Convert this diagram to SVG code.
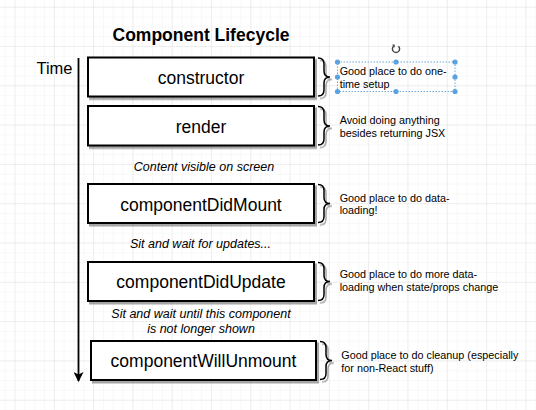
<svg xmlns="http://www.w3.org/2000/svg" width="536" height="410" viewBox="0 0 536 410">
<defs>
<pattern id="minor" x="14.5" y="6.7" width="9.825" height="9.825" patternUnits="userSpaceOnUse">
<path d="M0 0H9.825M0 0V9.825" fill="none" stroke="#f2f2f2" stroke-width="1"/>
</pattern>
<pattern id="major" x="14.5" y="6.7" width="39.3" height="39.3" patternUnits="userSpaceOnUse">
<path d="M0 0H39.3M0 0V39.3" fill="none" stroke="#e4e4e4" stroke-width="1"/>
</pattern>
<filter id="sh" x="-10%" y="-20%" width="130%" height="150%">
<feDropShadow dx="2" dy="2.5" stdDeviation="0.6" flood-color="#000" flood-opacity="0.35"/>
</filter>
<marker id="ah" viewBox="0 0 10 10" refX="9" refY="5" markerWidth="10" markerHeight="10" markerUnits="userSpaceOnUse" orient="auto">
<path d="M0 0L10 5L0 10L2.5 5Z" fill="#000"/>
</marker>
</defs>
<style>
.box{fill:#fff;stroke:#000;stroke-width:2;filter:url(#sh)}
.lbl{font-family:"Liberation Sans",Arial,sans-serif;font-size:17.5px;text-anchor:middle;fill:#000}
.it{font-family:"Liberation Sans",Arial,sans-serif;font-size:12.5px;font-style:italic;text-anchor:middle;fill:#000}
.note{font-family:"Liberation Sans",Arial,sans-serif;font-size:10.8px;fill:#000}
.brace{fill:none;stroke:#000;stroke-width:1.5;filter:url(#sh)}
.hd{fill:#5aa3e0}
</style>
<rect width="536" height="410" fill="#fff"/>
<rect width="536" height="410" fill="url(#minor)"/>
<rect width="536" height="410" fill="url(#major)"/>

<text x="201" y="40.7" font-family="'Liberation Sans',Arial,sans-serif" font-size="17.5" font-weight="bold" text-anchor="middle">Component Lifecycle</text>
<text x="72.5" y="74" font-family="'Liberation Sans',Arial,sans-serif" font-size="16.5" text-anchor="end">Time</text>

<g id="connectors">
<line x1="78.5" y1="58" x2="78.5" y2="381" stroke="#000" stroke-width="1.8" marker-end="url(#ah)"/>
<path class="brace" d="M318 58Q324 58 324 64L324 71Q324 77 330 77Q324 77 324 83L324 90Q324 96 318 96"/>
<path class="brace" d="M318 106.5Q324 106.5 324 112.5L324 120Q324 126 330 126Q324 126 324 132L324 139Q324 145 318 145"/>
<path class="brace" d="M318 184.5Q324 184.5 324 190.5L324 197.5Q324 203.5 330 203.5Q324 203.5 324 209.5L324 216.5Q324 222.5 318 222.5"/>
<path class="brace" d="M318 262.5Q324 262.5 324 268.5L324 275.5Q324 281.5 330 281.5Q324 281.5 324 287.5L324 294.5Q324 300.5 318 300.5"/>
<path class="brace" d="M320 341.5Q326 341.5 326 347.5L326 354.5Q326 360.5 332 360.5Q326 360.5 326 366.5L326 373.5Q326 379.5 320 379.5"/>
</g>

<g id="constructor">
<rect class="box" x="88" y="57.5" width="226" height="39"/>
<text class="lbl" x="201" y="84">constructor</text>
</g>
<g id="render">
<rect class="box" x="88" y="106" width="226" height="39.5"/>
<text class="lbl" x="201" y="132.5">render</text>
</g>
<g id="componentDidMount">
<rect class="box" x="88" y="184" width="226" height="39"/>
<text class="lbl" x="201" y="210.5">componentDidMount</text>
</g>
<g id="componentDidUpdate">
<rect class="box" x="88" y="262" width="226" height="39"/>
<text class="lbl" x="201" y="287.7">componentDidUpdate</text>
</g>
<g id="componentWillUnmount">
<rect class="box" x="91" y="341" width="225" height="39"/>
<text class="lbl" x="203.5" y="366.7">componentWillUnmount</text>
</g>

<g id="phase-labels">
<text class="it" x="204" y="170.7">Content visible on screen</text>
<text class="it" x="200.5" y="248.3">Sit and wait for updates...</text>
<text class="it" x="201" y="318.3">Sit and wait until this component</text>
<text class="it" x="201" y="332.7">is not longer shown</text>
</g>

<g id="notes">
<text class="note" x="339.7" y="75">Good place to do one-</text>
<text class="note" x="339.7" y="87.5">time setup</text>
<text class="note" x="339.7" y="124">Avoid doing anything</text>
<text class="note" x="339.7" y="136.7">besides returning JSX</text>
<text class="note" x="339.7" y="201.7">Good place to do data-</text>
<text class="note" x="339.7" y="214.3">loading!</text>
<text class="note" x="339.7" y="278.3">Good place to do more data-</text>
<text class="note" x="339.7" y="290.8">loading when state/props change</text>
<text class="note" x="341.3" y="359">Good place to do cleanup (especially</text>
<text class="note" x="341.3" y="371.7">for non-React stuff)</text>
</g>

<g id="selection">
<rect x="337.5" y="62" width="117.5" height="29.5" fill="none" stroke="#6fa8dc" stroke-width="1" stroke-dasharray="1.5 1.5"/>
<circle class="hd" cx="337.5" cy="62" r="2.6"/>
<circle class="hd" cx="396" cy="62" r="2.6"/>
<circle class="hd" cx="455" cy="62" r="2.6"/>
<circle class="hd" cx="337.5" cy="77" r="2.6"/>
<circle class="hd" cx="455" cy="77" r="2.6"/>
<circle class="hd" cx="337.5" cy="91.5" r="2.6"/>
<circle class="hd" cx="396" cy="91.5" r="2.6"/>
<circle class="hd" cx="455" cy="91.5" r="2.6"/>
<path d="M393.6 46.2A3.6 3.6 0 1 0 398.4 46.2" fill="none" stroke="#444" stroke-width="1.4"/>
<path d="M392 44.5L395 44.8L394.4 47.8Z" fill="#444"/>
</g>
</svg>
